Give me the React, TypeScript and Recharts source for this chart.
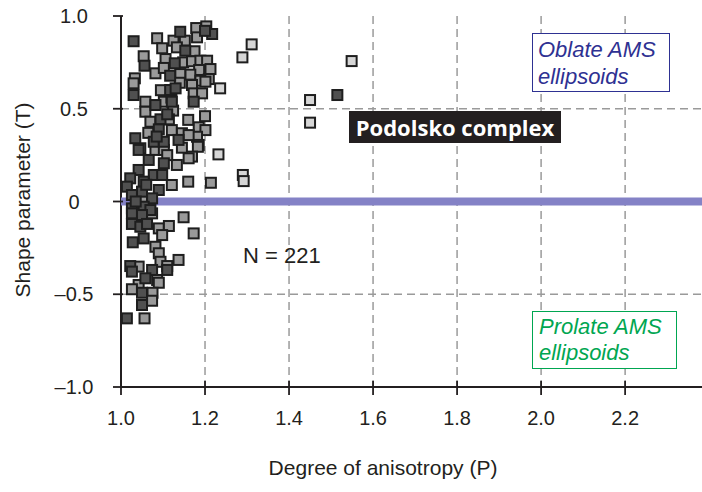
import React from 'react';
import { ScatterChart, Scatter, XAxis, YAxis, CartesianGrid, Label } from 'recharts';

const xTicks = [1.0, 1.2, 1.4, 1.6, 1.8, 2.0, 2.2];
const xTickLabels = ['1.0', '1.2', '1.4', '1.6', '1.8', '2.0', '2.2'];
const yTicks = [-1, -0.5, 0, 0.5, 1];
const yTickLabels = ['\u20131.0', '\u20130.5', '0', '0.5', '1.0'];
const xGridValues = [1.2, 1.4, 1.6, 1.8, 2.0, 2.2];
const yGridValues = [0.5, -0.5];
const zeroLine = [{ p: 1.0, t: 0 }, { p: 2.383, t: 0 }];

const midPoints = [
  { p: 1.086, t: 0.88 }, { p: 1.179, t: 0.935 }, { p: 1.203, t: 0.944 }, { p: 1.125, t: 0.867 },
  { p: 1.152, t: 0.867 }, { p: 1.181, t: 0.885 }, { p: 1.098, t: 0.826 }, { p: 1.054, t: 0.783 },
  { p: 1.082, t: 0.691 }, { p: 1.133, t: 0.831 }, { p: 1.175, t: 0.81 }, { p: 1.106, t: 0.768 },
  { p: 1.148, t: 0.75 }, { p: 1.169, t: 0.756 }, { p: 1.189, t: 0.759 }, { p: 1.205, t: 0.759 },
  { p: 1.213, t: 0.714 }, { p: 1.186, t: 0.709 }, { p: 1.165, t: 0.684 }, { p: 1.141, t: 0.687 },
  { p: 1.102, t: 0.72 }, { p: 1.033, t: 0.664 }, { p: 1.209, t: 0.66 }, { p: 1.189, t: 0.651 },
  { p: 1.03, t: 0.637 }, { p: 1.169, t: 0.628 }, { p: 1.201, t: 0.646 }, { p: 1.173, t: 0.583 },
  { p: 1.193, t: 0.583 }, { p: 1.058, t: 0.538 }, { p: 1.102, t: 0.538 }, { p: 1.124, t: 0.49 },
  { p: 1.058, t: 0.484 }, { p: 1.07, t: 0.43 }, { p: 1.114, t: 0.443 }, { p: 1.121, t: 0.385 },
  { p: 1.145, t: 0.368 }, { p: 1.185, t: 0.4 }, { p: 1.201, t: 0.385 }, { p: 1.181, t: 0.349 },
  { p: 1.161, t: 0.358 }, { p: 1.046, t: 0.287 }, { p: 1.185, t: 0.305 }, { p: 1.082, t: 0.278 },
  { p: 1.102, t: 0.278 }, { p: 1.145, t: 0.29 }, { p: 1.183, t: 0.295 }, { p: 1.169, t: 0.242 },
  { p: 1.133, t: 0.197 }, { p: 1.161, t: 0.233 }, { p: 1.121, t: 0.089 }, { p: 1.16, t: 0.107 },
  { p: 1.05, t: 0.008 }, { p: 1.214, t: 0.101 }, { p: 1.074, t: -0.064 }, { p: 1.149, t: -0.085 },
  { p: 1.09, t: -0.145 }, { p: 1.114, t: -0.132 }, { p: 1.098, t: -0.181 }, { p: 1.173, t: -0.172 },
  { p: 1.082, t: -0.244 }, { p: 1.09, t: -0.279 }, { p: 1.094, t: -0.325 }, { p: 1.137, t: -0.315 },
  { p: 1.11, t: -0.348 }, { p: 1.042, t: -0.351 }, { p: 1.086, t: -0.423 }, { p: 1.09, t: -0.438 },
  { p: 1.042, t: -0.45 }, { p: 1.026, t: -0.473 }, { p: 1.075, t: -0.492 }, { p: 1.074, t: -0.535 },
  { p: 1.056, t: -0.63 }, { p: 1.12, t: 0.56 }, { p: 1.14, t: 0.64 }, { p: 1.095, t: 0.6 },
  { p: 1.16, t: 0.44 }, { p: 1.2, t: 0.46 }, { p: 1.065, t: 0.37 }, { p: 1.11, t: 0.25 },
];

const darkPoints = [
  { p: 1.03, t: 0.864 }, { p: 1.141, t: 0.915 }, { p: 1.217, t: 0.903 }, { p: 1.056, t: 0.732 },
  { p: 1.153, t: 0.813 }, { p: 1.128, t: 0.745 }, { p: 1.117, t: 0.678 }, { p: 1.03, t: 0.574 },
  { p: 1.117, t: 0.601 }, { p: 1.173, t: 0.538 }, { p: 1.082, t: 0.52 }, { p: 1.121, t: 0.538 },
  { p: 1.094, t: 0.443 }, { p: 1.09, t: 0.389 }, { p: 1.034, t: 0.341 }, { p: 1.078, t: 0.322 },
  { p: 1.102, t: 0.322 }, { p: 1.137, t: 0.332 }, { p: 1.042, t: 0.278 }, { p: 1.066, t: 0.224 },
  { p: 1.102, t: 0.206 }, { p: 1.042, t: 0.17 }, { p: 1.078, t: 0.143 }, { p: 1.098, t: 0.143 },
  { p: 1.022, t: 0.125 }, { p: 1.054, t: 0.107 }, { p: 1.014, t: 0.08 }, { p: 1.05, t: 0.053 },
  { p: 1.09, t: 0.062 }, { p: 1.026, t: 0.035 }, { p: 1.074, t: 0.017 }, { p: 1.026, t: -0.037 },
  { p: 1.054, t: -0.028 }, { p: 1.07, t: -0.046 }, { p: 1.026, t: -0.064 }, { p: 1.05, t: -0.073 },
  { p: 1.026, t: -0.121 }, { p: 1.046, t: -0.136 }, { p: 1.062, t: -0.121 }, { p: 1.028, t: -0.22 },
  { p: 1.054, t: -0.199 }, { p: 1.022, t: -0.348 }, { p: 1.026, t: -0.378 }, { p: 1.074, t: -0.369 },
  { p: 1.058, t: -0.414 }, { p: 1.11, t: -0.369 }, { p: 1.05, t: -0.492 }, { p: 1.05, t: -0.558 },
  { p: 1.014, t: -0.63 }, { p: 1.515, t: 0.574 }, { p: 1.06, t: 0.09 }, { p: 1.035, t: 0.0 },
  { p: 1.085, t: 0.35 }, { p: 1.11, t: 0.47 }, { p: 1.13, t: 0.61 }, { p: 1.2, t: 0.92 },
];

const lightPoints = [
  { p: 1.311, t: 0.847 }, { p: 1.289, t: 0.777 }, { p: 1.236, t: 0.61 }, { p: 1.45, t: 0.547 },
  { p: 1.549, t: 0.757 }, { p: 1.45, t: 0.425 }, { p: 1.232, t: 0.254 }, { p: 1.29, t: 0.143 },
  { p: 1.292, t: 0.11 },
];

const FONT = '"Liberation Sans", Arial, sans-serif';
const INK = '#231f20';

const makeSquare = (fill: string) => (props: any) => {
  const { cx, cy } = props;
  if (cx == null || cy == null) return <g />;
  return (
    <rect x={cx - 5} y={cy - 5} width={10} height={10} fill={fill} stroke="#1e1e1e" strokeWidth={2} />
  );
};

const NoShape = () => <g />;

const XTick = (props: any) => {
  const { x, y, payload } = props;
  const i = xTicks.indexOf(payload.value);
  return (
    <g>
      <line x1={x} x2={x} y1={y - 6} y2={y + 8} stroke={INK} strokeWidth={1.8} />
      <text x={x} y={y + 38} textAnchor="middle" fontSize={20} fill={INK} fontFamily={FONT}>
        {xTickLabels[i]}
      </text>
    </g>
  );
};

const YTick = (props: any) => {
  const { x, y, payload } = props;
  const i = yTicks.indexOf(payload.value);
  return (
    <g>
      <line x1={x - 8} x2={x + 2} y1={y} y2={y} stroke={INK} strokeWidth={1.8} />
      <text x={x - 47} y={y + 7} textAnchor="middle" fontSize={20} fill={INK} fontFamily={FONT}>
        {yTickLabels[i]}
      </text>
    </g>
  );
};

export default function App() {
  return (
    <div style={{ position: 'relative', width: 702, height: 492, background: '#fff' }}>
      <style>{'body{margin:0;}'}</style>
      <ScatterChart width={702} height={492} margin={{ top: 16, right: 0, bottom: 0, left: 0 }}>
        <CartesianGrid
          verticalValues={xGridValues}
          horizontalValues={yGridValues}
          stroke="#9a9a9a"
          strokeWidth={1.5}
          strokeDasharray="8 5"
        />
        <XAxis
          type="number"
          dataKey="p"
          domain={[1.0, 2.383]}
          ticks={xTicks}
          allowDataOverflow
          height={105}
          tickSize={0}
          tickMargin={0}
          tickLine={false}
          tick={<XTick />}
          axisLine={{ stroke: INK, strokeWidth: 2 }}
        >
          <Label
            content={() => (
              <text x={383} y={475} textAnchor="middle" fontSize={21} fill={INK} fontFamily={FONT}>
                Degree of anisotropy (P)
              </text>
            )}
          />
        </XAxis>
        <YAxis
          type="number"
          dataKey="t"
          domain={[-1, 1]}
          ticks={yTicks}
          width={121}
          tickSize={0}
          tickMargin={0}
          tickLine={false}
          tick={<YTick />}
          axisLine={{ stroke: INK, strokeWidth: 2 }}
        >
          <Label
            content={() => (
              <text
                x={22}
                y={200}
                transform="rotate(-90, 22, 200)"
                textAnchor="middle"
                dominantBaseline="central"
                fontSize={21}
                fill={INK}
                fontFamily={FONT}
              >
                Shape parameter (T)
              </text>
            )}
          />
        </YAxis>
        <Scatter
          data={zeroLine}
          isAnimationActive={false}
          line={{ stroke: '#8482c6', strokeWidth: 8 }}
          shape={NoShape}
        />
        <Scatter data={midPoints} isAnimationActive={false} shape={makeSquare('#9a9a9a')} />
        <Scatter data={darkPoints} isAnimationActive={false} shape={makeSquare('#505050')} />
        <Scatter data={lightPoints} isAnimationActive={false} shape={makeSquare('#d6d6d6')} />
      </ScatterChart>

      <div
        style={{
          position: 'absolute', left: 532, top: 33, width: 138, height: 59, boxSizing: 'border-box',
          border: '1.2px solid #2e3192', background: '#fff', color: '#2e3192', fontFamily: FONT,
          fontStyle: 'italic', fontSize: 22, lineHeight: '27px', padding: '2px 0 0 5px', whiteSpace: 'nowrap',
        }}
      >
        Oblate AMS
        <br />
        ellipsoids
      </div>
      <div
        style={{
          position: 'absolute', left: 532, top: 311, width: 145, height: 58, boxSizing: 'border-box',
          border: '1.5px solid #00a651', background: '#fff', color: '#00a651', fontFamily: FONT,
          fontStyle: 'italic', fontSize: 22, lineHeight: '26px', padding: '2px 0 0 6px', whiteSpace: 'nowrap',
        }}
      >
        Prolate AMS
        <br />
        ellipsoids
      </div>
      <div
        style={{
          position: 'absolute', left: 349, top: 111, width: 212, height: 32, boxSizing: 'border-box',
          background: '#231f20', color: '#fff', fontFamily: '"Open Sans", sans-serif', fontWeight: 700,
          fontSize: 22, lineHeight: '32px', textAlign: 'center', whiteSpace: 'nowrap',
        }}
      >
        Podolsko complex
      </div>
      <div
        style={{
          position: 'absolute', left: 243, top: 242, color: INK, fontFamily: FONT, fontSize: 22,
          lineHeight: '27px', whiteSpace: 'nowrap',
        }}
      >
        N = 221
      </div>
    </div>
  );
}
